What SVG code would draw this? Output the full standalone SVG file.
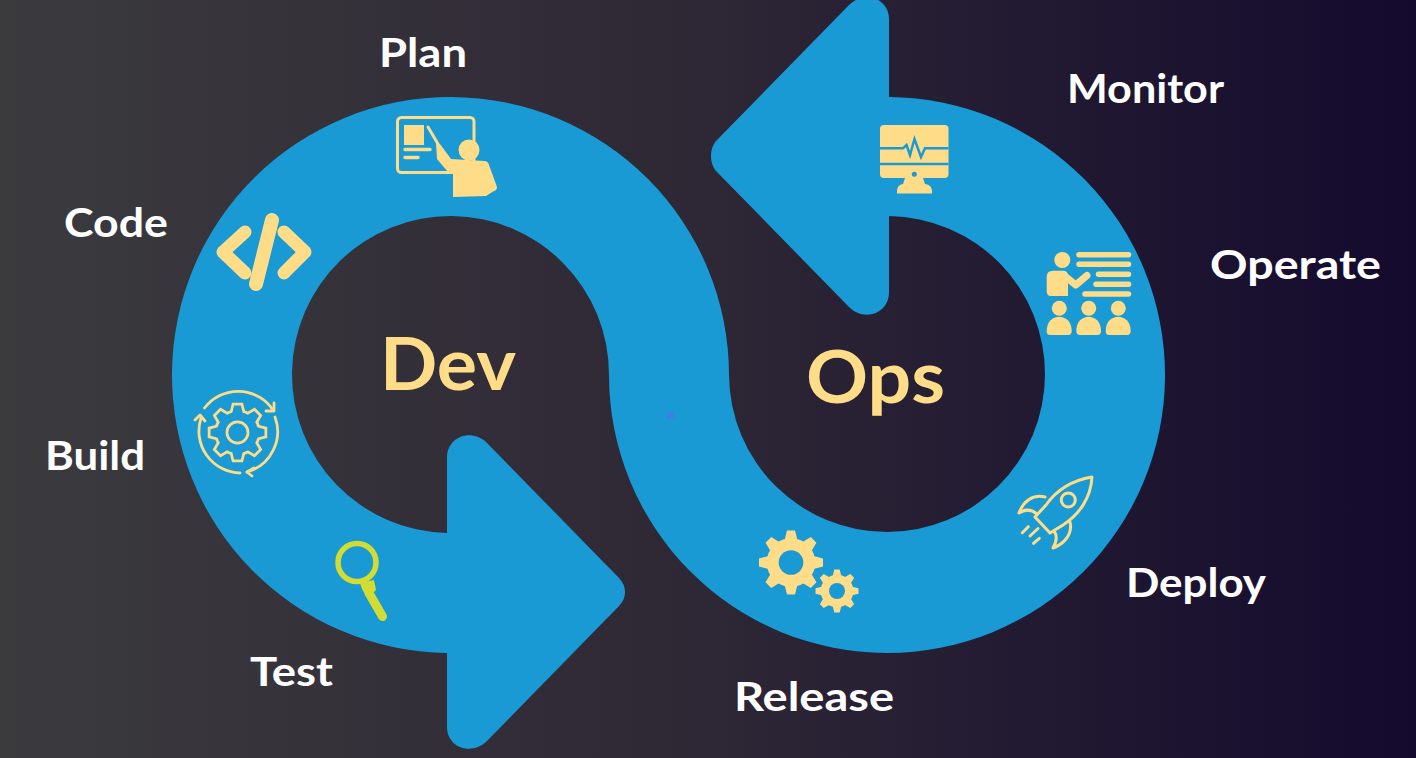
<svg xmlns="http://www.w3.org/2000/svg" width="1416" height="758" viewBox="0 0 1416 758">
<defs>
<linearGradient id="bg" x1="0" y1="0" x2="1" y2="0"><stop offset="0" stop-color="#3b3b3e"/><stop offset="0.5" stop-color="#2e2735"/><stop offset="1" stop-color="#140a2e"/></linearGradient>
<path id="tooth" vector-effect="non-scaling-stroke" d="M-1 0 L-0.62 -1 L0.62 -1 L1 0 Z"/>
<g id="gear"><circle r="0.76" vector-effect="non-scaling-stroke"/><use href="#tooth" transform="translate(0,-0.7) scale(0.2,0.3)"/><use href="#tooth" transform="rotate(45) translate(0,-0.7) scale(0.2,0.3)"/><use href="#tooth" transform="rotate(90) translate(0,-0.7) scale(0.2,0.3)"/><use href="#tooth" transform="rotate(135) translate(0,-0.7) scale(0.2,0.3)"/><use href="#tooth" transform="rotate(180) translate(0,-0.7) scale(0.2,0.3)"/><use href="#tooth" transform="rotate(225) translate(0,-0.7) scale(0.2,0.3)"/><use href="#tooth" transform="rotate(270) translate(0,-0.7) scale(0.2,0.3)"/><use href="#tooth" transform="rotate(315) translate(0,-0.7) scale(0.2,0.3)"/></g>
</defs>
<style>
.lab{font-family:"Lato","Liberation Sans",sans-serif;font-weight:700;font-size:41px;fill:#fff}
.big{font-family:"Lato","Liberation Sans",sans-serif;font-weight:700;font-size:73px;fill:#ffdd88}
.c{fill:#ffdd88}
.cs{fill:none;stroke:#ffdd88;stroke-linecap:round;stroke-linejoin:round}
.b{fill:none;stroke:#199ad5}
</style>
<rect width="1416" height="758" fill="url(#bg)"/>
<g id="connectors">
<path id="infinity-band" fill="#199ad5" d="M447 653 A278.5 278 0 1 1 729 375 A158 158 0 1 0 889 216 L889 292 C889 314 864 322 849 307 L717 172 C709 164 709 148 717 140 L849 5 C864 -10 889 -2 889 19 L889 97 A278 278 0 1 1 609 375 A158.5 158.5 0 1 0 447 533 L447 458 C447 436 472 428 487 443 L619 578 C627 586 627 598 619 606 L487 741 C472 756 447 748 447 727 Z"/>
<path id="mark" d="M667.500 412 L674 418.500 M674 412 L667.500 418.500" stroke="#4c77e8" stroke-width="2.200" fill="none"/>
</g>
<g id="plan">
<rect x="397.500" y="117.500" width="76.500" height="55" rx="4" fill="none" stroke="#ffdd88" stroke-width="3"/>
<rect x="404" y="125" width="20" height="20" class="c"/>
<path class="cs" stroke-width="3.500" d="M405 149.500H430M405 157.500H418"/>
<path class="cs" stroke-width="3" d="M428 127L438 144"/>
<circle cx="469" cy="150" r="10.500" class="c"/>
<path class="c" d="M436 143 L440 144 L451 159 L484 161 Q488 161 489 165 L497 187 Q497 190 494 191 L486 196 L453 197 L453 174 L448 172 L437 159 Z"/>
<text class="lab" x="379" y="67" textLength="88" lengthAdjust="spacingAndGlyphs">Plan</text>
</g>
<g id="code">
<path class="cs" stroke-width="13" d="M245 232L223 252L245 273M284 232L305 252L284 273"/>
<path class="cs" stroke-width="14" d="M272 220L256 284"/>
<text class="lab" x="64" y="237" textLength="104" lengthAdjust="spacingAndGlyphs">Code</text>
</g>
<g id="build">
<g transform="translate(237.500,432.500) scale(27)">
<use href="#gear" fill="#ffdd88" stroke="#ffdd88" stroke-width="5.500"/>
<use href="#gear" fill="#199ad5"/>
<circle r="0.39" fill="none" stroke="#ffdd88" stroke-width="0.1"/>
</g>
<path class="cs" stroke-width="2.800" d="M204.500 408 A42 42 0 0 1 273 410 M275 417 A42 42 0 0 1 247 472 M240 473 A42 42 0 0 1 201 418"/>
<path class="cs" stroke-width="2.800" d="M266 411L274 411L274 403M254 468L247 472L252 476M195 420L200 415L205 421"/>
<text class="lab" x="45" y="470" textLength="100" lengthAdjust="spacingAndGlyphs">Build</text>
</g>
<g id="test">
<circle cx="357" cy="562.500" r="19" fill="none" stroke="#d3dc32" stroke-width="5.500"/>
<path fill="#d3dc32" d="M360 583L374 580L376 590L372 594L366 596L362 589Z"/>
<path fill="none" stroke="#d3dc32" stroke-width="9" stroke-linecap="round" d="M369 593L382.500 616.500"/>
<text class="lab" x="250" y="686" textLength="83" lengthAdjust="spacingAndGlyphs">Test</text>
</g>
<g id="monitor">
<rect x="880" y="125" width="68.500" height="53" rx="4" class="c"/>
<path class="b" stroke-width="2.500" d="M880 148.300H903L906.500 145L910 155L914.500 139L921 157L925 148.300H948.500M880 164H948.500"/>
<circle cx="914.300" cy="174.300" r="2.500" fill="#199ad5"/>
<path class="c" d="M905 178H923L925 184Q932 185 932 191V193.500H897V191Q897 185 903 184Z"/>
<text class="lab" x="1067" y="103" textLength="157" lengthAdjust="spacingAndGlyphs">Monitor</text>
</g>
<g id="operate">
<circle cx="1062.300" cy="260" r="8" class="c"/>
<path class="cs" stroke-width="5.500" d="M1079 254.700H1128.500M1079 264.300H1128.500M1098.500 274.300H1128.500M1096 284.300H1128.500M1085 294H1128.500"/>
<path class="c" d="M1053 270.700H1063Q1068 270.700 1068 276V296H1051Q1046.700 296 1046.700 291V277Q1046.700 270.700 1053 270.700Z"/>
<path class="cs" stroke-width="7" d="M1066 277L1075.700 285L1087 275.500"/>
<circle cx="1059.300" cy="308.300" r="7.500" class="c"/><circle cx="1088.700" cy="308.300" r="7.500" class="c"/><circle cx="1118.300" cy="308.300" r="7.500" class="c"/>
<path class="c" d="M1046.700 331C1046.700 312 1071.700 312 1071.700 331Q1071.700 335 1068 335H1050Q1046.700 335 1046.700 331Z"/>
<path class="c" d="M1076.300 331C1076.300 312 1101 312 1101 331Q1101 335 1097.500 335H1080Q1076.300 335 1076.300 331Z"/>
<path class="c" d="M1105.700 331C1105.700 312 1130.700 312 1130.700 331Q1130.700 335 1127 335H1109Q1105.700 335 1105.700 331Z"/>
<text class="lab" x="1210" y="279" textLength="171" lengthAdjust="spacingAndGlyphs">Operate</text>
</g>
<g id="deploy">
<path class="cs" stroke-width="3" d="M1092 477C1074 480 1058 488 1046 505L1035 517L1050 533L1063 525C1080 514 1091 497 1092 477Z"/>
<circle cx="1068.300" cy="500" r="7" fill="none" stroke="#ffdd88" stroke-width="3"/>
<path class="cs" stroke-width="3" d="M1045 497C1032 494 1023 502 1019 513C1025 509 1031 509 1037 514M1070 522C1073 534 1064 544 1053 548C1057 541 1057 535 1054 531"/>
<path class="cs" stroke-width="3" d="M1022.300 532.700L1028.300 526.700M1030 536L1038 528.500M1033.500 543.300L1039.300 538.300"/>
<text class="lab" x="1126" y="597" textLength="140" lengthAdjust="spacingAndGlyphs">Deploy</text>
</g>
<g id="release">
<g transform="translate(791,562.500) scale(32)"><use href="#gear" fill="#ffdd88"/></g>
<circle cx="791" cy="562.500" r="12.300" fill="#199ad5"/>
<g transform="translate(837,591) scale(21.500)"><use href="#gear" fill="#ffdd88"/></g>
<circle cx="837" cy="591" r="8" fill="#199ad5"/>
<text class="lab" x="734" y="711" textLength="160" lengthAdjust="spacingAndGlyphs">Release</text>
</g>
<g id="dev"><text class="big" x="380" y="390" textLength="136" lengthAdjust="spacingAndGlyphs">Dev</text></g>
<g id="ops"><text class="big" x="806" y="403" textLength="139" lengthAdjust="spacingAndGlyphs">Ops</text></g>
</svg>
